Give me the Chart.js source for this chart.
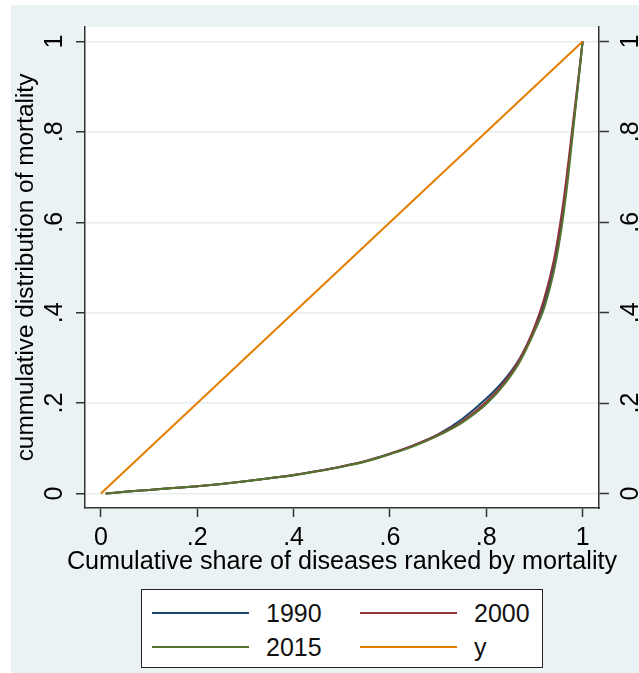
<!DOCTYPE html>
<html>
<head>
<meta charset="utf-8">
<script src="https://cdn.jsdelivr.net/npm/chart.js@4/dist/chart.umd.min.js"></script>
<style>
  html, body { margin: 0; padding: 0; background: #fff; }
  #wrap { position: relative; width: 639px; height: 673px; }
  #legend {
    position: absolute; left: 141px; top: 589px; width: 402px; height: 79px;
    box-sizing: border-box; border: 1.5px solid #222; background: #fff;
    font-family: "Liberation Sans", Arial, sans-serif; font-size: 25px; color: #111;
  }
  .item { position: absolute; height: 30px; line-height: 30px; }
  .item .ln { position: absolute; left: 0; top: 14px; width: 97px; height: 2px; }
  .item .tx { position: absolute; left: 114px; top: 0; white-space: nowrap; }
</style>
</head>
<body>
<div id="wrap">
  <canvas id="myChart" width="639" height="673"></canvas>
  <div id="legend"></div>
</div>
<script>
// cumulative share of diseases (x) and cumulative mortality per year (y)
const xShare = [0.01, 0.05, 0.1, 0.15, 0.2, 0.25, 0.3, 0.35, 0.4, 0.45, 0.5, 0.55, 0.6, 0.65,
    0.7, 0.75, 0.8, 0.84, 0.87, 0.9, 0.92, 0.94, 0.95, 0.96, 0.97, 0.98, 0.99, 1];

const mort1990 = [0, 0.004, 0.008, 0.012, 0.016, 0.021, 0.027, 0.034, 0.041, 0.05, 0.06, 0.072, 0.088, 0.107,
    0.131, 0.165, 0.21, 0.255, 0.3, 0.365, 0.42, 0.5, 0.56, 0.63, 0.72, 0.81, 0.9, 1];
const mort2000 = [0, 0.004, 0.008, 0.012, 0.016, 0.021, 0.027, 0.034, 0.041, 0.05, 0.06, 0.072, 0.088, 0.107,
    0.13, 0.16, 0.203, 0.25, 0.298, 0.368, 0.43, 0.515, 0.575, 0.645, 0.73, 0.82, 0.91, 1];
const mort2015 = [0, 0.004, 0.008, 0.012, 0.016, 0.021, 0.027, 0.034, 0.04, 0.049, 0.059, 0.071, 0.087, 0.105,
    0.128, 0.157, 0.198, 0.245, 0.292, 0.358, 0.41, 0.49, 0.545, 0.615, 0.7, 0.8, 0.9, 1];

// equality line
const xEqual = [0, 1];
const yEqual = [0, 1];

const seriesNames = ['1990', '2000', '2015', 'y'];
const seriesColors = ['rgb(26,71,111)', 'rgb(144,53,59)', 'rgb(85,117,47)', 'rgb(227,126,0)'];

const tickValues = [0, 0.2, 0.4, 0.6, 0.8, 1];

const xTitle = 'Cumulative share of diseases ranked by mortality';
const yTitle = 'cummulative distribution of mortality';

const fontFamily = '"Liberation Sans", Arial, sans-serif';
const font = { family: fontFamily, size: 25 };
const bgColor = 'rgb(234,242,243)';
const axisColor = '#333';

function toPoints(xs, ys) {
    return xs.map((x, i) => ({ x: x, y: ys[i] }));
}

function tickText(v) {
    if (v === 0) return '0';
    if (v === 1) return '1';
    return String(v).replace('0.', '.');
}

function setTicks(scale) {
    scale.ticks = tickValues.map(v => ({ value: v }));
}

const allSeries = [mort1990, mort2000, mort2015];
const datasets = allSeries.map((ys, i) => ({
    label: seriesNames[i],
    data: toPoints(xShare, ys),
    borderColor: seriesColors[i],
    backgroundColor: seriesColors[i],
    borderWidth: 2,
    pointRadius: 0,
    showLine: true,
    cubicInterpolationMode: 'monotone',
    order: 4 - i
}));
datasets.push({
    label: seriesNames[3],
    data: toPoints(xEqual, yEqual),
    borderColor: seriesColors[3],
    backgroundColor: seriesColors[3],
    borderWidth: 2,
    pointRadius: 0,
    showLine: true,
    order: 1
});

// stata-like background: bluish grey outer region, white plot region
const background = {
    id: 'background',
    beforeDraw(chart) {
        const { ctx, chartArea } = chart;
        ctx.save();
        ctx.fillStyle = '#fff';
        ctx.fillRect(0, 0, chart.width, chart.height);
        ctx.fillStyle = bgColor;
        ctx.fillRect(11, 5, chart.width - 11, chart.height - 5);
        ctx.fillStyle = '#fff';
        ctx.fillRect(chartArea.left, chartArea.top, chartArea.right - chartArea.left, chartArea.bottom - chartArea.top);
        ctx.restore();
    }
};

// x title drawn without the scale's maxWidth squeeze (it is wider than the plot)
const xTitlePlugin = {
    id: 'xTitle',
    afterDraw(chart) {
        const { ctx, chartArea } = chart;
        ctx.save();
        ctx.font = '25.2px ' + fontFamily;
        ctx.fillStyle = '#000';
        ctx.textAlign = 'center';
        ctx.textBaseline = 'middle';
        ctx.fillText(xTitle, (chartArea.left + chartArea.right) / 2, chartArea.bottom + 54);
        ctx.restore();
    }
};

const config = {
    type: 'scatter',
    data: { datasets },
    options: {
        responsive: false,
        animation: false,
        layout: { padding: { top: 16, left: 0, right: 0, bottom: 0 } },
        plugins: { legend: { display: false }, tooltip: { enabled: false } },
        scales: {
            x: {
                type: 'linear',
                min: -0.033,
                max: 1.034,
                afterBuildTicks: setTicks,
                afterFit(scale) { scale.height = 165; },
                border: { display: true, color: axisColor, width: 1.5 },
                grid: { drawOnChartArea: false, drawTicks: true, tickLength: 9, tickColor: axisColor, tickWidth: 1.5 },
                ticks: { font, color: '#000', padding: 6, maxRotation: 0, autoSkip: false, callback: tickText }
            },
            y: {
                type: 'linear',
                position: 'left',
                min: -0.032,
                max: 1.032,
                afterBuildTicks: setTicks,
                afterFit(scale) { scale.width = 85; },
                border: { display: true, color: axisColor, width: 1.5 },
                grid: { color: 'rgb(230,238,240)', lineWidth: 1.5, tickLength: 9, tickColor: axisColor, tickWidth: 1.5 },
                ticks: { font, color: '#000', padding: 10, minRotation: 90, maxRotation: 90, crossAlign: 'center', autoSkip: false, callback: tickText },
                title: {
                    display: true,
                    text: yTitle,
                    font: { family: fontFamily, size: 24.4 }, color: '#000',
                    padding: { top: 12, bottom: 0 }
                }
            },
            y2: {
                type: 'linear',
                position: 'right',
                min: -0.032,
                max: 1.032,
                afterBuildTicks: setTicks,
                afterFit(scale) { scale.width = 40; },
                border: { display: true, color: axisColor, width: 1.5 },
                grid: { drawOnChartArea: false, tickLength: 10, tickColor: axisColor, tickWidth: 1.5 },
                ticks: { font, color: '#000', padding: 12, minRotation: 90, maxRotation: 90, crossAlign: 'center', autoSkip: false, callback: tickText }
            }
        }
    },
    plugins: [background, xTitlePlugin]
};

// legend box in two columns
const legendBox = document.getElementById('legend');
const itemPos = [[10, 8], [218, 8], [10, 42], [218, 42]];
seriesNames.forEach((name, i) => {
    const item = document.createElement('div');
    item.className = 'item';
    item.style.left = itemPos[i][0] + 'px';
    item.style.top = itemPos[i][1] + 'px';
    item.innerHTML = '<span class="ln" style="background:' + seriesColors[i] + '"></span><span class="tx">' + name + '</span>';
    legendBox.appendChild(item);
});

var myChart = new Chart(document.getElementById('myChart'), config);
</script>
</body>
</html>
